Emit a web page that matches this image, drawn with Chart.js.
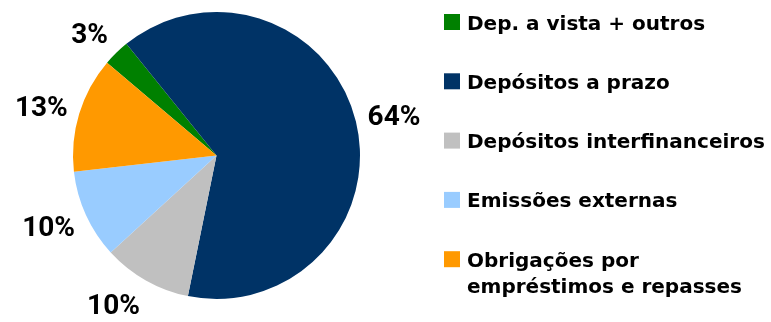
<!DOCTYPE html>
<html>
<head>
<meta charset="utf-8">
<script src="https://cdn.jsdelivr.net/npm/chart.js@4.4.0/dist/chart.umd.min.js"></script>
<style>
  body { margin: 0; background: #fff; }
  #wrap { position: relative; width: 771px; height: 322px; }
</style>
</head>
<body>
<div id="wrap"><canvas id="myChart"></canvas></div>
<script>
// Chart data

const labels = [
  "Dep. a vista + outros",
  "Depósitos a prazo",
  "Depósitos interfinanceiros",
  "Emissões externas",
  ["Obrigações por", "empréstimos e repasses"],
];
const data = [3, 64, 10, 10, 13];
const colors = ["#008000", "#003366", "#C0C0C0", "#99CCFF", "#FF9900"];

// Percent labels outside each slice

const percentLabels = {
  id: "percentLabels",
  afterDatasetsDraw(chart) {
    const ctx = chart.ctx;
    const meta = chart.getDatasetMeta(0);
    const total = data.reduce((a, b) => a + b, 0);
    ctx.save();
    ctx.font = "bold 28px Roboto";
    ctx.fillStyle = "#000";
    ctx.textAlign = "center";
    ctx.textBaseline = "alphabetic";
    meta.data.forEach((arc, i) => {
      const mid = (arc.startAngle + arc.endAngle) / 2;
      const ux = Math.cos(mid);
      const uy = Math.sin(mid);
      const text = Math.round((data[i] / total) * 100) + "%";
      const w = ctx.measureText(text).width;
      const r = arc.outerRadius + 12;
      const x = arc.x + ux * r + (Math.sign(ux) * w) / 2;
      const y = arc.y + uy * r + uy * 15;
      ctx.fillText(text, x, y + 10);
    });
    ctx.restore();
  },
};

// Legend on the right

const sideLegend = {
  id: "sideLegend",
  afterDraw(chart) {
    const ctx = chart.ctx;
    ctx.save();
    ctx.font = "bold 20px 'DejaVu Sans'";
    ctx.textBaseline = "alphabetic";
    labels.forEach((label, i) => {
      const top = 14 + i * 59.3;
      ctx.fillStyle = colors[i];
      ctx.fillRect(444, top, 16, 16);
      ctx.fillStyle = "#000";
      [].concat(label).forEach((line, j) => {
        ctx.fillText(line, 467, top + 15.5 + j * 26);
      });
    });
    ctx.restore();
  },
};

new Chart(document.getElementById("myChart"), {
  type: "pie",
  data: {
    labels: labels,
    datasets: [
      {
        data: data,
        backgroundColor: colors,
        borderWidth: 0,
      },
    ],
  },
  options: {
    responsive: true,
    maintainAspectRatio: false,
    animation: false,
    rotation: -49.7,
    layout: {
      padding: { left: 73, top: 12, right: 411, bottom: 23 },
    },
    plugins: {
      legend: { display: false },
      tooltip: { enabled: false },
    },
  },
  plugins: [percentLabels, sideLegend],
});
</script>
</body>
</html>
